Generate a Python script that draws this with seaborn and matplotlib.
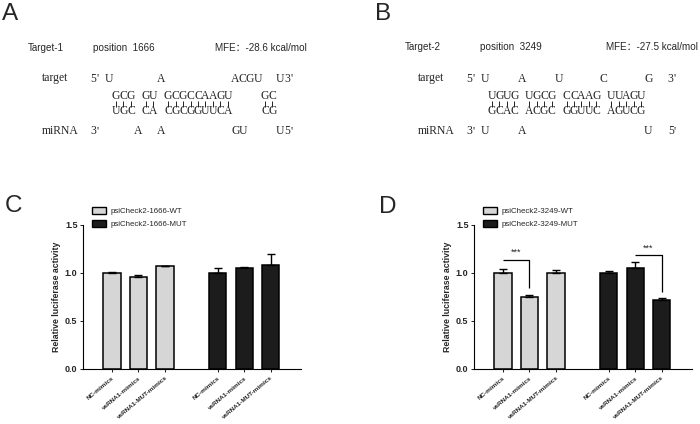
import pandas as pd
import seaborn as sns
import matplotlib.pyplot as plt
from matplotlib.patches import Patch

# ---- data ----
treatments = ["NC-mimics", "vsRNA1-mimics", "vsRNA1-MUT-mimics"]

c_constructs = ["psiCheck2-1666-WT", "psiCheck2-1666-MUT"]
c_wt_mean = [1.00, 0.96, 1.07]
c_wt_err = [0.015, 0.02, 0.006]
c_mut_mean = [1.00, 1.05, 1.08]
c_mut_err = [0.055, 0.015, 0.115]

d_constructs = ["psiCheck2-3249-WT", "psiCheck2-3249-MUT"]
d_wt_mean = [1.00, 0.755, 0.995]
d_wt_err = [0.045, 0.012, 0.035]
d_mut_mean = [1.00, 1.055, 0.72]
d_mut_err = [0.02, 0.055, 0.022]

# significance: (group, treatment i, treatment j, bracket height, drop to)
d_sig = [("WT", 0, 1, 1.14, 0.84), ("MUT", 1, 2, 1.19, 0.80)]

# hybrid diagrams, column aligned (first char = column -3)
a_header = ["Target-1", "position  1666", "MFE\uff1a-28.6 kcal/mol"]
a_rows = ["5'U      A         ACGU  U3'",
          "   GCG GU GCGCCAAGU    GC",
          "   UGC CA CGCGGUUCA    CG",
          "3'    A  A         GU    U5'"]
b_header = ["Target-2", "position  3249", "MFE\uff1a-27.5 kcal/mol"]
b_rows = ["5'U    A    U     C     G  3'",
          "   UGUG UGCG CCAAG UUAGU",
          "   GCAC ACGC GGUUC AGUCG",
          "3'U    A                U  5'"]
row_names = ["target", "miRNA"]

wt_color = "#d6d6d6"
mut_color = "#1c1c1c"

sns.set_style("ticks")
plt.rcParams["font.family"] = ["Liberation Sans", "Noto Sans CJK SC", "DejaVu Sans"]

fig = plt.figure(figsize=(7, 4.24), dpi=100)

# overlay in pixel coordinates for text panels
tx = fig.add_axes([0, 0, 1, 1])
tx.set_xlim(0, 700)
tx.set_ylim(424, 0)
tx.axis("off")

for letter, (x, y) in zip("ABCD", [(2, 20), (375, 20), (5, 212), (379, 213)]):
    tx.text(x, y, letter, fontsize=17.5, va="baseline", ha="left")


def draw_hybrid(header, rows, hx, hy, name_x, x0, step=7.45):
    for t, xx in zip(header, hx):
        tx.text(xx, hy, t, fontsize=7.1, va="center", ha="left")
    ys = [78.5, 96, 111.5, 131.5]
    tx.text(name_x, ys[0], row_names[0], fontsize=8.4, family="Liberation Serif",
            va="center", ha="left")
    tx.text(name_x, ys[3], row_names[1], fontsize=8.4, family="Liberation Serif",
            va="center", ha="left")
    for r, y in zip(rows, ys):
        for k, ch in enumerate(r):
            if ch == " ":
                continue
            col = k - 3
            xc = x0 + col * step
            if ch == "'":
                xc -= 0.45 * step
            tx.text(xc, y, ch, fontsize=8.4, family="Liberation Serif",
                    va="center", ha="center")
    top, bot = rows[1], rows[2]
    for k in range(min(len(top), len(bot))):
        if top[k] != " " and bot[k] != " ":
            xc = x0 + (k - 3) * step
            tx.vlines(xc, 100.5, 107, color="#222222", lw=0.7)


draw_hybrid(a_header, a_rows, [28, 93, 215], 48, 42, 116)
draw_hybrid(b_header, b_rows, [405, 480, 606], 47, 418, 492)


def bar_panel(rect, constructs, wt_mean, wt_err, mut_mean, mut_err, sig=None):
    ax = fig.add_axes(rect)
    keys_wt = ["WT|" + t for t in treatments]
    keys_mut = ["MUT|" + t for t in treatments]
    order = keys_wt + ["gap"] + keys_mut
    df = pd.DataFrame({
        "key": keys_wt + keys_mut,
        "construct": [constructs[0]] * 3 + [constructs[1]] * 3,
        "value": wt_mean + mut_mean,
    })
    sns.barplot(data=df, x="key", y="value", hue="construct", order=order,
                palette={constructs[0]: wt_color, constructs[1]: mut_color},
                dodge=False, errorbar=None, width=0.65, edgecolor="black",
                linewidth=1.1, legend=False, ax=ax)
    pos = [order.index(k) for k in df["key"]]
    ax.errorbar(pos, df["value"], yerr=[[0] * 6, wt_err + mut_err], fmt="none",
                ecolor="black", elinewidth=1.0, capsize=3.2, capthick=1.0, zorder=5)
    ax.set_xlim(-1.1, 7.15)
    ax.set_ylim(0, 1.5)
    ax.set_yticks([0, 0.5, 1.0, 1.5])
    ax.set_yticklabels(["0.0", "0.5", "1.0", "1.5"], fontsize=6.5, fontweight="bold")
    ax.set_xticks(pos)
    ax.set_xticklabels(treatments * 2, rotation=40, ha="right", va="top",
                       rotation_mode="anchor", fontsize=4.6, fontweight="bold")
    ax.tick_params(axis="y", length=2.5, width=0.75, pad=1.5)
    ax.tick_params(axis="x", length=2.0, width=0.75, pad=2.5)
    ax.set_xlabel("")
    ax.set_ylabel("Relative luciferase activity", fontsize=6.3, fontweight="bold",
                  labelpad=3)
    for s in ["top", "right"]:
        ax.spines[s].set_visible(False)
    for s in ["left", "bottom"]:
        ax.spines[s].set_linewidth(0.8)
        ax.spines[s].set_color("black")

    handles = [Patch(facecolor=wt_color, edgecolor="black", linewidth=1.0),
               Patch(facecolor=mut_color, edgecolor="black", linewidth=1.0)]
    ax.legend(handles, constructs, loc="upper left",
              bbox_to_anchor=(rect[0] + 9 / 700, 0.512),
              bbox_transform=fig.transFigure, frameon=False, fontsize=5.7,
              borderpad=0, borderaxespad=0, handlelength=1.75, handleheight=1.0,
              labelspacing=0.6, handletextpad=0.55)

    if sig:
        for grp, i, j, h, low in sig:
            keys = keys_wt if grp == "WT" else keys_mut
            xi, xj = order.index(keys[i]), order.index(keys[j])
            ax.plot([xi, xj, xj], [h, h, low], color="black", lw=0.9,
                    solid_capstyle="butt")
            ax.text((xi + xj) / 2, h + 0.025, "***", ha="center", va="bottom",
                    fontsize=6.5)
    return ax


bar_panel([83 / 700, 55 / 424, 218 / 700, 144 / 424], c_constructs,
          c_wt_mean, c_wt_err, c_mut_mean, c_mut_err)
bar_panel([474 / 700, 55 / 424, 218 / 700, 144 / 424], d_constructs,
          d_wt_mean, d_wt_err, d_mut_mean, d_mut_err, sig=d_sig)

fig.savefig("out.png", dpi=100)
